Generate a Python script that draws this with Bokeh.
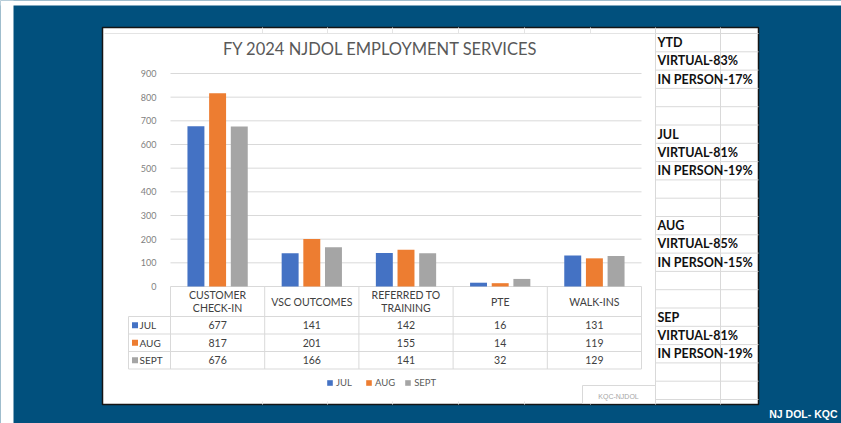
from bokeh.plotting import figure
from bokeh.models import Range1d, ColumnDataSource, Legend, LegendItem
from bokeh.transform import dodge
from bokeh.core.properties import value
from bokeh.embed import file_html
from bokeh.resources import INLINE

# ---------------- data ----------------
categories = ["CUSTOMER CHECK-IN", "VSC OUTCOMES", "REFERRED TO TRAINING", "PTE", "WALK-INS"]
header_labels = ["CUSTOMER\nCHECK-IN", "VSC OUTCOMES", "REFERRED TO\nTRAINING", "PTE", "WALK-INS"]
months = ["JUL", "AUG", "SEPT"]
jul = [677, 141, 142, 16, 131]
aug = [817, 201, 155, 14, 119]
sept = [676, 166, 141, 32, 129]
y_ticks = [0, 100, 200, 300, 400, 500, 600, 700, 800, 900]
chart_title = "FY 2024 NJDOL EMPLOYMENT SERVICES"
side_periods = ["YTD", "JUL", "AUG", "SEP"]
side_virtual = [83, 81, 85, 81]
side_in_person = [17, 19, 15, 19]
footer = "NJ DOL- KQC"
watermark = "KQC-NJDOL"

# ---------------- styling / layout ----------------
W, H = 841, 423
BLUE_BG = "#01507D"
COLORS = ["#4472C4", "#ED7D31", "#A5A5A5"]
GRID = "#D9D9D9"
TXT = "#404040"
PL, PR = 170, 641      # plot area left/right (px)
PT, PB = 73, 286       # y of 900 and y of 0 (px from top)
YMAX = 900
unit = (PR - PL) / len(categories)
pxv = (PB - PT) / YMAX

p = figure(width=W, height=H, x_range=Range1d(0, W), y_range=Range1d(H, 0),
           x_axis_type=None, y_axis_type=None, output_backend="svg",
           toolbar_location=None, min_border=0, outline_line_color=None,
           background_fill_color=BLUE_BG, border_fill_color=BLUE_BG)
p.title.visible = False
p.extra_x_ranges = {"cat": Range1d(-PL / unit, len(categories) + (W - PR) / unit)}
p.extra_y_ranges = {"val": Range1d(-(H - PB) / pxv, YMAX + PT / pxv)}

# page decoration
p.quad(left=[0, 0], right=[13, W], top=[0, 0], bottom=[H, 5], fill_color="white", line_color=None)
p.quad(left=[102], right=[758], top=[27], bottom=[404], fill_color="white",
       line_color="#151515", line_width=1.5)

# spreadsheet grid on right and around chart
row0, rowh = 33, 18.3
rows_y = [row0 + rowh * k for k in range(21)]
p.segment(x0=[655] * len(rows_y), x1=[758] * len(rows_y), y0=rows_y, y1=rows_y,
          line_color=GRID, line_width=1)
p.segment(x0=[655, 720], x1=[655, 720], y0=[27, 27], y1=[404, 404], line_color=GRID, line_width=1)
sheet_cols = [262, 327, 392, 458, 524, 590]
p.segment(x0=sheet_cols, x1=sheet_cols, y0=[27] * 6, y1=[33] * 6, line_color="#E4E4E4")
p.segment(x0=sheet_cols, x1=sheet_cols, y0=[401] * 6, y1=[404] * 6, line_color="#E4E4E4")
p.segment(x0=[104], x1=[655], y0=[33], y1=[33], line_color="#E4E4E4")

# side texts
side_lines = []
side_rows = []
for g, (per, v, ip) in enumerate(zip(side_periods, side_virtual, side_in_person)):
    side_lines += [per, f"VIRTUAL-{v}%", f"IN PERSON-{ip}%"]
    side_rows += [g * 5, g * 5 + 1, g * 5 + 2]
p.text(x=[657] * len(side_lines), y=[row0 + rowh * (r + 0.5) for r in side_rows], text=side_lines,
       text_font=value("Lato"), text_font_style="bold", text_font_size="12.5px",
       text_color="#111111", text_align="left", text_baseline="middle")

# footer text
p.text(x=[837], y=[413], text=[footer], text_font=value("Liberation Sans"), text_font_style="bold",
       text_font_size="10.5px", text_color="white", text_align="right", text_baseline="middle")

# title
p.text(x=[380], y=[48], text=[chart_title], text_font=value("Lato"),
       text_font_size="16.5px", text_color="#595959", text_align="center", text_baseline="middle")

# gridlines
p.segment(x0=[0] * len(y_ticks), x1=[len(categories)] * len(y_ticks), y0=y_ticks, y1=y_ticks,
          x_range_name="cat", y_range_name="val", line_color=GRID, line_width=1)
# y tick labels
p.text(x=[156] * len(y_ticks), y=y_ticks, text=[str(t) for t in y_ticks], y_range_name="val",
       text_font=value("Lato"), text_font_size="9px", text_color="#7F7F7F",
       text_align="right", text_baseline="middle")

# bars
xi = [i + 0.5 for i in range(len(categories))]
src = ColumnDataSource(dict(xi=xi, JUL=jul, AUG=aug, SEPT=sept))
offs = [-0.23, 0.0, 0.23]
bars = []
for m, c, o in zip(months, COLORS, offs):
    r = p.vbar(x=dodge("xi", o), top=m, bottom=0, width=0.18, source=src,
               x_range_name="cat", y_range_name="val", fill_color=c, line_color=None)
    bars.append(r)

# data table
tbl_top, hdr_bot, trow_h = PB, 316, 17.5
row_lines = [hdr_bot + trow_h * k for k in range(4)]
p.segment(x0=[128] * 4, x1=[PR] * 4, y0=row_lines, y1=row_lines, line_color=GRID, line_width=1)
bounds = list(range(len(categories) + 1))
p.segment(x0=bounds, x1=bounds, y0=[tbl_top] * len(bounds), y1=[row_lines[-1]] * len(bounds),
          x_range_name="cat", line_color=GRID, line_width=1)
p.segment(x0=[128], x1=[128], y0=[hdr_bot], y1=[row_lines[-1]], line_color=GRID, line_width=1)
p.text(x=xi, y=[301] * len(xi), text=header_labels, x_range_name="cat",
       text_font=value("Lato"), text_font_size="10.5px", text_color=TXT,
       text_align="center", text_baseline="middle", text_line_height=1.1)
for k, (m, vals, c) in enumerate(zip(months, [jul, aug, sept], COLORS)):
    yc = hdr_bot + trow_h * (k + 0.5)
    p.text(x=xi, y=[yc] * len(xi), text=[str(v) for v in vals], x_range_name="cat",
           text_font=value("Lato"), text_font_size="10.5px", text_color=TXT,
           text_align="center", text_baseline="middle")
    p.scatter(x=[134.5], y=[yc], marker="square", size=6, fill_color=c, line_color=None)
    p.text(x=[139], y=[yc], text=[m], text_font=value("Lato"), text_font_size="10px",
           text_color=TXT, text_align="left", text_baseline="middle")

# legend
legend = Legend(items=[LegendItem(label=m, renderers=[r]) for m, r in zip(months, bars)],
                orientation="horizontal", location=(326, H - 388), padding=0, margin=0,
                spacing=9, glyph_width=7, glyph_height=7, label_standoff=3, label_height=10,
                label_text_font="Lato", label_text_font_size="9.5px", label_text_color="#595959",
                border_line_color=None, background_fill_alpha=0)
p.add_layout(legend, "center")

# watermark box
p.quad(left=[582], right=[655], top=[385], bottom=[403], fill_color="white", line_color=GRID)
p.text(x=[618], y=[396], text=[watermark], text_font=value("Liberation Sans"), text_font_size="7px",
       text_color="#A6A6A6", text_align="center", text_baseline="middle")

open("out.html", "w").write(file_html(p, INLINE))
